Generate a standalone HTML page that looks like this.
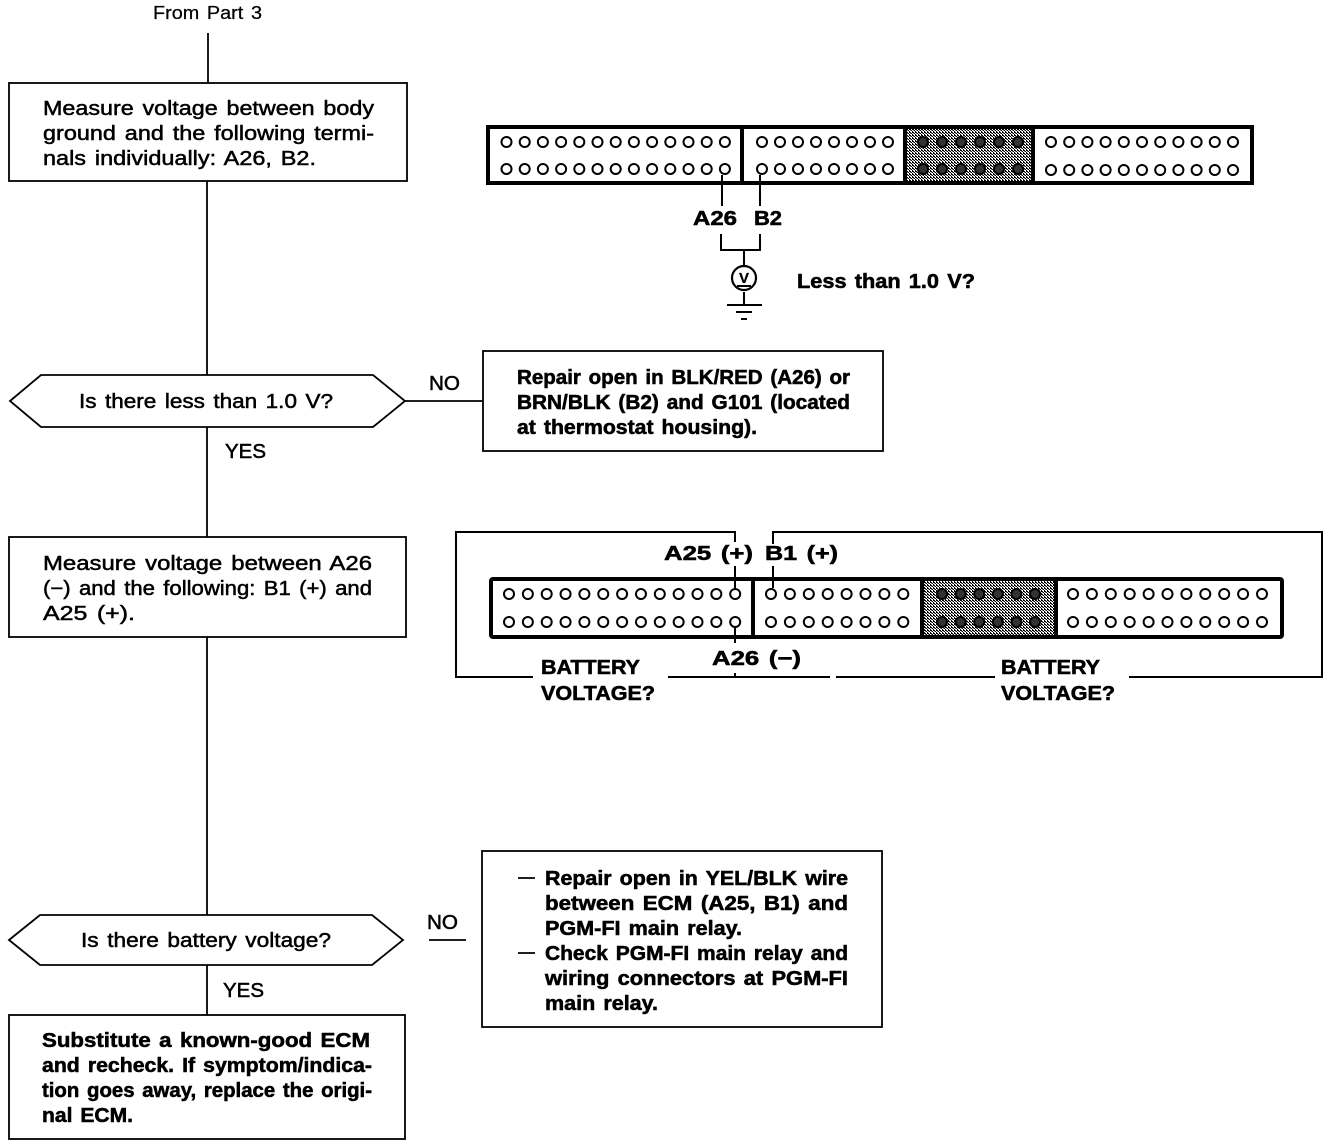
<!DOCTYPE html>
<html><head><meta charset="utf-8"><title>Diagram</title>
<style>
html,body{margin:0;padding:0;background:#fff}
svg{display:block}
text{font-family:"Liberation Sans",sans-serif;font-size:20px;fill:#000;word-spacing:2px}
.n{stroke:#000;stroke-width:.5}
.b{font-weight:bold;stroke:#000;stroke-width:.55}
.l{fill:none;stroke:#000;stroke-width:1.8}
.t{fill:none;stroke:#000;stroke-width:4}
.c{fill:#fff;stroke:#000;stroke-width:2}
.h{fill:#333;stroke:#000;stroke-width:2}
</style></head><body>
<svg width="1344" height="1146" viewBox="0 0 1344 1146" xmlns="http://www.w3.org/2000/svg">
<defs>
<pattern id="d" width="3" height="3" patternUnits="userSpaceOnUse"><rect width="3" height="3" fill="#fff"/><rect width="2" height="1" fill="#000"/><rect x="1.5" y="1" width="1.5" height="1" fill="#000"/><rect x="0" y="2" width="1" height="1" fill="#000"/></pattern>
<circle id="o" r="5"/>
<g id="r13a" class="c"><use href="#o" x="0"/><use href="#o" x="18.2"/><use href="#o" x="36.4"/><use href="#o" x="54.6"/><use href="#o" x="72.8"/><use href="#o" x="91"/><use href="#o" x="109.2"/><use href="#o" x="127.4"/><use href="#o" x="145.6"/><use href="#o" x="163.8"/><use href="#o" x="182"/><use href="#o" x="200.2"/><use href="#o" x="218.4"/></g>
<g id="r8a" class="c"><use href="#o" x="0"/><use href="#o" x="18"/><use href="#o" x="36"/><use href="#o" x="54"/><use href="#o" x="72"/><use href="#o" x="90"/><use href="#o" x="108"/><use href="#o" x="126"/></g>
<g id="r11a" class="c"><use href="#o" x="0"/><use href="#o" x="18.2"/><use href="#o" x="36.4"/><use href="#o" x="54.6"/><use href="#o" x="72.8"/><use href="#o" x="91"/><use href="#o" x="109.2"/><use href="#o" x="127.4"/><use href="#o" x="145.6"/><use href="#o" x="163.8"/><use href="#o" x="182"/></g>
<g id="r13b" class="c"><use href="#o" x="0"/><use href="#o" x="18.85"/><use href="#o" x="37.7"/><use href="#o" x="56.55"/><use href="#o" x="75.4"/><use href="#o" x="94.25"/><use href="#o" x="113.1"/><use href="#o" x="131.95"/><use href="#o" x="150.8"/><use href="#o" x="169.65"/><use href="#o" x="188.5"/><use href="#o" x="207.35"/><use href="#o" x="226.2"/></g>
<g id="r8b" class="c"><use href="#o" x="0"/><use href="#o" x="18.9"/><use href="#o" x="37.8"/><use href="#o" x="56.7"/><use href="#o" x="75.6"/><use href="#o" x="94.5"/><use href="#o" x="113.4"/><use href="#o" x="132.3"/></g>
<g id="r11b" class="c"><use href="#o" x="0"/><use href="#o" x="18.9"/><use href="#o" x="37.8"/><use href="#o" x="56.7"/><use href="#o" x="75.6"/><use href="#o" x="94.5"/><use href="#o" x="113.4"/><use href="#o" x="132.3"/><use href="#o" x="151.2"/><use href="#o" x="170.1"/><use href="#o" x="189"/></g>
<g id="r6a" class="h"><use href="#o" x="0"/><use href="#o" x="19"/><use href="#o" x="38"/><use href="#o" x="57"/><use href="#o" x="76"/><use href="#o" x="95"/></g>
<g id="r6b" class="h"><use href="#o" x="0"/><use href="#o" x="18.6"/><use href="#o" x="37.2"/><use href="#o" x="55.8"/><use href="#o" x="74.4"/><use href="#o" x="93"/></g>
</defs>

<!-- Flow column -->
<text class="n" x="153" y="19" style="font-size:18px;stroke-width:.25" textLength="109" lengthAdjust="spacingAndGlyphs">From Part 3</text>
<path class="l" d="M208 33V83"/>
<rect class="l" x="9" y="83" width="398" height="98"/>
<text class="n" x="43" y="115" textLength="331" lengthAdjust="spacingAndGlyphs">Measure voltage between body</text>
<text class="n" x="43" y="140" textLength="331" lengthAdjust="spacingAndGlyphs">ground and the following termi-</text>
<text class="n" x="43" y="165" textLength="273" lengthAdjust="spacingAndGlyphs">nals individually: A26, B2.</text>
<path class="l" d="M207 181V375"/>

<polygon class="l" points="10,401 41,375 373,375 405,401 373,427 41,427"/>
<text class="n" x="79" y="408" textLength="254" lengthAdjust="spacingAndGlyphs">Is there less than 1.0 V?</text>
<path class="l" d="M405 401H483M207 427V537"/>
<text class="n" x="429" y="390" textLength="31" lengthAdjust="spacingAndGlyphs">NO</text>
<text class="n" x="225" y="458" textLength="41" lengthAdjust="spacingAndGlyphs">YES</text>

<rect class="l" x="483" y="351" width="400" height="100"/>
<text class="b" x="517" y="384" textLength="333" lengthAdjust="spacingAndGlyphs">Repair open in BLK/RED (A26) or</text>
<text class="b" x="517" y="409" textLength="333" lengthAdjust="spacingAndGlyphs">BRN/BLK (B2) and G101 (located</text>
<text class="b" x="517" y="434" textLength="240" lengthAdjust="spacingAndGlyphs">at thermostat housing).</text>

<rect class="l" x="9" y="537" width="397" height="100"/>
<text class="n" x="43" y="570" textLength="329" lengthAdjust="spacingAndGlyphs">Measure voltage between A26</text>
<text class="n" x="43" y="595" textLength="329" lengthAdjust="spacingAndGlyphs">(−) and the following: B1 (+) and</text>
<text class="n" x="43" y="620" textLength="92" lengthAdjust="spacingAndGlyphs">A25 (+).</text>
<path class="l" d="M207 637V915"/>

<polygon class="l" points="9,940 40,915 372,915 403,940 372,965 40,965"/>
<text class="n" x="81" y="947" textLength="250" lengthAdjust="spacingAndGlyphs">Is there battery voltage?</text>
<path class="l" d="M429 940H466M207 965V1015"/>
<text class="n" x="427" y="929" textLength="31" lengthAdjust="spacingAndGlyphs">NO</text>
<text class="n" x="223" y="997" textLength="41" lengthAdjust="spacingAndGlyphs">YES</text>

<rect class="l" x="482" y="851" width="400" height="176"/>
<path d="M518 878H535M518 953H535" stroke="#000" stroke-width="1.8"/>
<text class="b" x="545" y="885" textLength="303" lengthAdjust="spacingAndGlyphs">Repair open in YEL/BLK wire</text>
<text class="b" x="545" y="910" textLength="303" lengthAdjust="spacingAndGlyphs">between ECM (A25, B1) and</text>
<text class="b" x="545" y="935" textLength="197" lengthAdjust="spacingAndGlyphs">PGM-FI main relay.</text>
<text class="b" x="545" y="960" textLength="303" lengthAdjust="spacingAndGlyphs">Check PGM-FI main relay and</text>
<text class="b" x="545" y="985" textLength="303" lengthAdjust="spacingAndGlyphs">wiring connectors at PGM-FI</text>
<text class="b" x="545" y="1010" textLength="113" lengthAdjust="spacingAndGlyphs">main relay.</text>

<rect class="l" x="9" y="1015" width="396" height="124"/>
<text class="b" x="42" y="1047" textLength="328" lengthAdjust="spacingAndGlyphs">Substitute a known-good ECM</text>
<text class="b" x="42" y="1072" textLength="330" lengthAdjust="spacingAndGlyphs">and recheck. If symptom/indica-</text>
<text class="b" x="42" y="1097" textLength="330" lengthAdjust="spacingAndGlyphs">tion goes away, replace the origi-</text>
<text class="b" x="42" y="1122" textLength="91" lengthAdjust="spacingAndGlyphs">nal ECM.</text>

<!-- Connector 1 -->
<rect x="905" y="126" width="128" height="57" fill="url(#d)"/>
<rect class="t" x="488" y="127" width="764" height="56"/>
<path d="M742 126V183M905 126V183M1033 126V183" stroke="#000" stroke-width="4"/>
<use href="#r13a" x="506.5" y="142"/><use href="#r13a" x="506.5" y="169"/>
<use href="#r8a" x="762" y="142"/><use href="#r8a" x="762" y="169"/>
<use href="#r6a" x="923" y="142"/><use href="#r6a" x="923" y="169"/>
<use href="#r11a" x="1051" y="142"/><use href="#r11a" x="1051" y="170"/>
<path d="M722 175V206M760 175V206M721 234V250H760V234M744 250V266M744 292V304M727 305H762M736 312H752M741 319H747" fill="none" stroke="#000" stroke-width="2"/>
<circle cx="744" cy="278" r="12" fill="#fff" stroke="#000" stroke-width="2.2"/>
<text x="744" y="283" text-anchor="middle" style="font-size:15px;font-weight:bold;stroke:#000;stroke-width:.3">V</text>
<path d="M737 286H751" stroke="#000" stroke-width="2"/>
<text class="b" x="693" y="225" textLength="44" lengthAdjust="spacingAndGlyphs">A26</text>
<text class="b" x="754" y="225" textLength="28" lengthAdjust="spacingAndGlyphs">B2</text>
<text class="b" x="797" y="288" textLength="178" lengthAdjust="spacingAndGlyphs">Less than 1.0 V?</text>

<!-- Connector 2 -->
<rect x="922" y="578" width="134" height="59" fill="url(#d)"/>
<rect class="t" x="491" y="579" width="791" height="58" rx="2"/>
<path d="M753 578V637M922 578V637M1056 578V637" stroke="#000" stroke-width="4"/>
<use href="#r13b" x="509" y="594"/><use href="#r13b" x="509" y="622"/>
<use href="#r8b" x="771" y="594"/><use href="#r8b" x="771" y="622"/>
<use href="#r6b" x="942" y="594"/><use href="#r6b" x="942" y="622"/>
<use href="#r11b" x="1073" y="594"/><use href="#r11b" x="1073" y="622"/>
<path class="l" d="M735 542V532H456V677H533M668 677H830M836 677H995M1129 677H1322V532H773V544" style="stroke-width:2"/>
<path d="M735 566V589M773 566V588M735 627V643M735 673V677" fill="none" stroke="#000" stroke-width="2"/>
<text class="b" x="664" y="560" textLength="89" lengthAdjust="spacingAndGlyphs">A25 (+)</text>
<text class="b" x="765" y="560" textLength="73" lengthAdjust="spacingAndGlyphs">B1 (+)</text>
<text class="b" x="712" y="665" textLength="89" lengthAdjust="spacingAndGlyphs">A26 (−)</text>
<text class="b" x="541" y="674" textLength="99" lengthAdjust="spacingAndGlyphs">BATTERY</text>
<text class="b" x="541" y="700" textLength="114" lengthAdjust="spacingAndGlyphs">VOLTAGE?</text>
<text class="b" x="1001" y="674" textLength="99" lengthAdjust="spacingAndGlyphs">BATTERY</text>
<text class="b" x="1001" y="700" textLength="114" lengthAdjust="spacingAndGlyphs">VOLTAGE?</text>
</svg>
</body></html>
